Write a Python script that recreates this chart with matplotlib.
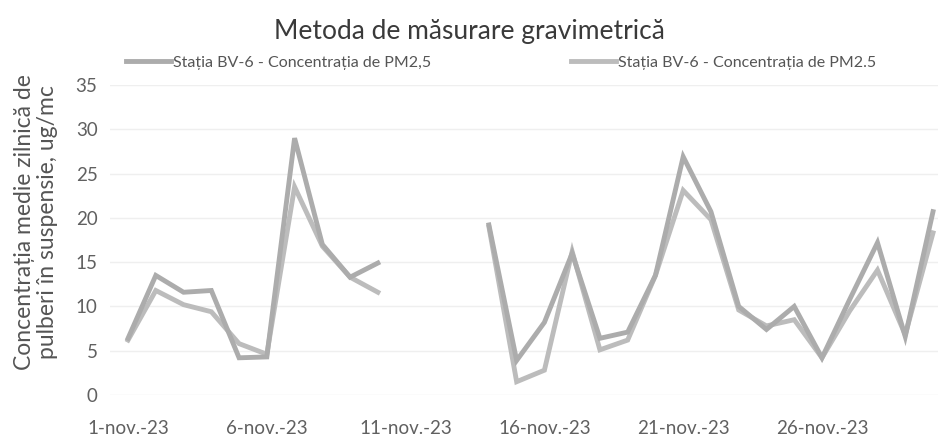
import numpy as np
import matplotlib.pyplot as plt
from matplotlib.lines import Line2D

plt.rcParams['font.family'] = ['Lato', 'DejaVu Sans']

# days of November 2023; 11-13 nov missing
days = list(range(1, 31))
pm25_a = [6.4, 13.5, 11.6, 11.8, 4.2, 4.3, 29.0, 17.0, 13.3, 14.9,
          None, None, None,
          19.2, 3.9, 8.2, 16.0, 6.4, 7.1, 13.5, 26.9, 20.7, 10.0, 7.4,
          10.0, 4.2, 10.8, 17.2, 6.6, 20.7]
pm25_b = [6.2, 11.8, 10.2, 9.4, 5.8, 4.6, 23.5, 16.8, 13.3, 11.6,
          None, None, None,
          19.0, 1.5, 2.8, 16.2, 5.1, 6.2, 13.5, 23.1, 19.8, 9.6, 7.8,
          8.5, 4.2, 9.5, 14.1, 6.8, 18.3]
tick_days = [1, 6, 11, 16, 21, 26]
tick_labels = ['1-nov.-23', '6-nov.-23', '11-nov.-23', '16-nov.-23', '21-nov.-23', '26-nov.-23']
label_a = 'Stația BV-6 - Concentrația de PM2,5'
label_b = 'Stația BV-6 - Concentrația de PM2.5'

a = np.array([np.nan if v is None else v for v in pm25_a])
b = np.array([np.nan if v is None else v for v in pm25_b])

W, H = 938, 448
fig = plt.figure(figsize=(W / 100, H / 100), dpi=100)
ax = fig.add_axes([110 / W, 53 / H, 828 / W, 310 / H])

col_a = '#acacac'
col_b = '#bcbcbc'
ax.plot(days, b, color=col_b, lw=3.5, solid_joinstyle='miter')
ax.plot(days, a, color=col_a, lw=3.5, solid_joinstyle='miter')

ax.set_ylim(0, 35)
ax.set_xlim(0.35, 30.18)
ax.set_yticks(range(0, 36, 5))
ax.set_xticks(tick_days)
ax.set_xticklabels(tick_labels)
ax.grid(axis='y', color='#efefef', lw=1)
ax.set_axisbelow(True)
for s in ax.spines.values():
    s.set_visible(False)
ax.tick_params(length=0, labelsize=13.5, colors='#606060')
ax.tick_params(axis='x', pad=18)
ax.tick_params(axis='y', pad=9)

fig.text(0.5, 1 - 32 / H, 'Metoda de măsurare gravimetrică', ha='center', va='center',
         fontsize=19, color='#3a3a3a')
fig.text(36 / W, 1 - 222 / H, 'Concentrația medie zilnică de\npulberi în suspensie, ug/mc',
         rotation=90, ha='center', va='center', fontsize=16.5, color='#555555',
         linespacing=1.1)

handles = [Line2D([], [], color=col_a, lw=3.5), Line2D([], [], color=col_b, lw=3.5)]
fig.legend(handles, [label_a, label_b], ncol=2, loc='center left',
           bbox_to_anchor=(112 / W, 1 - 63 / H), frameon=False, fontsize=11.5,
           labelcolor='#555555', handlelength=2.8, handletextpad=0.1,
           columnspacing=8.8)

fig.savefig('out.png', dpi=100)
